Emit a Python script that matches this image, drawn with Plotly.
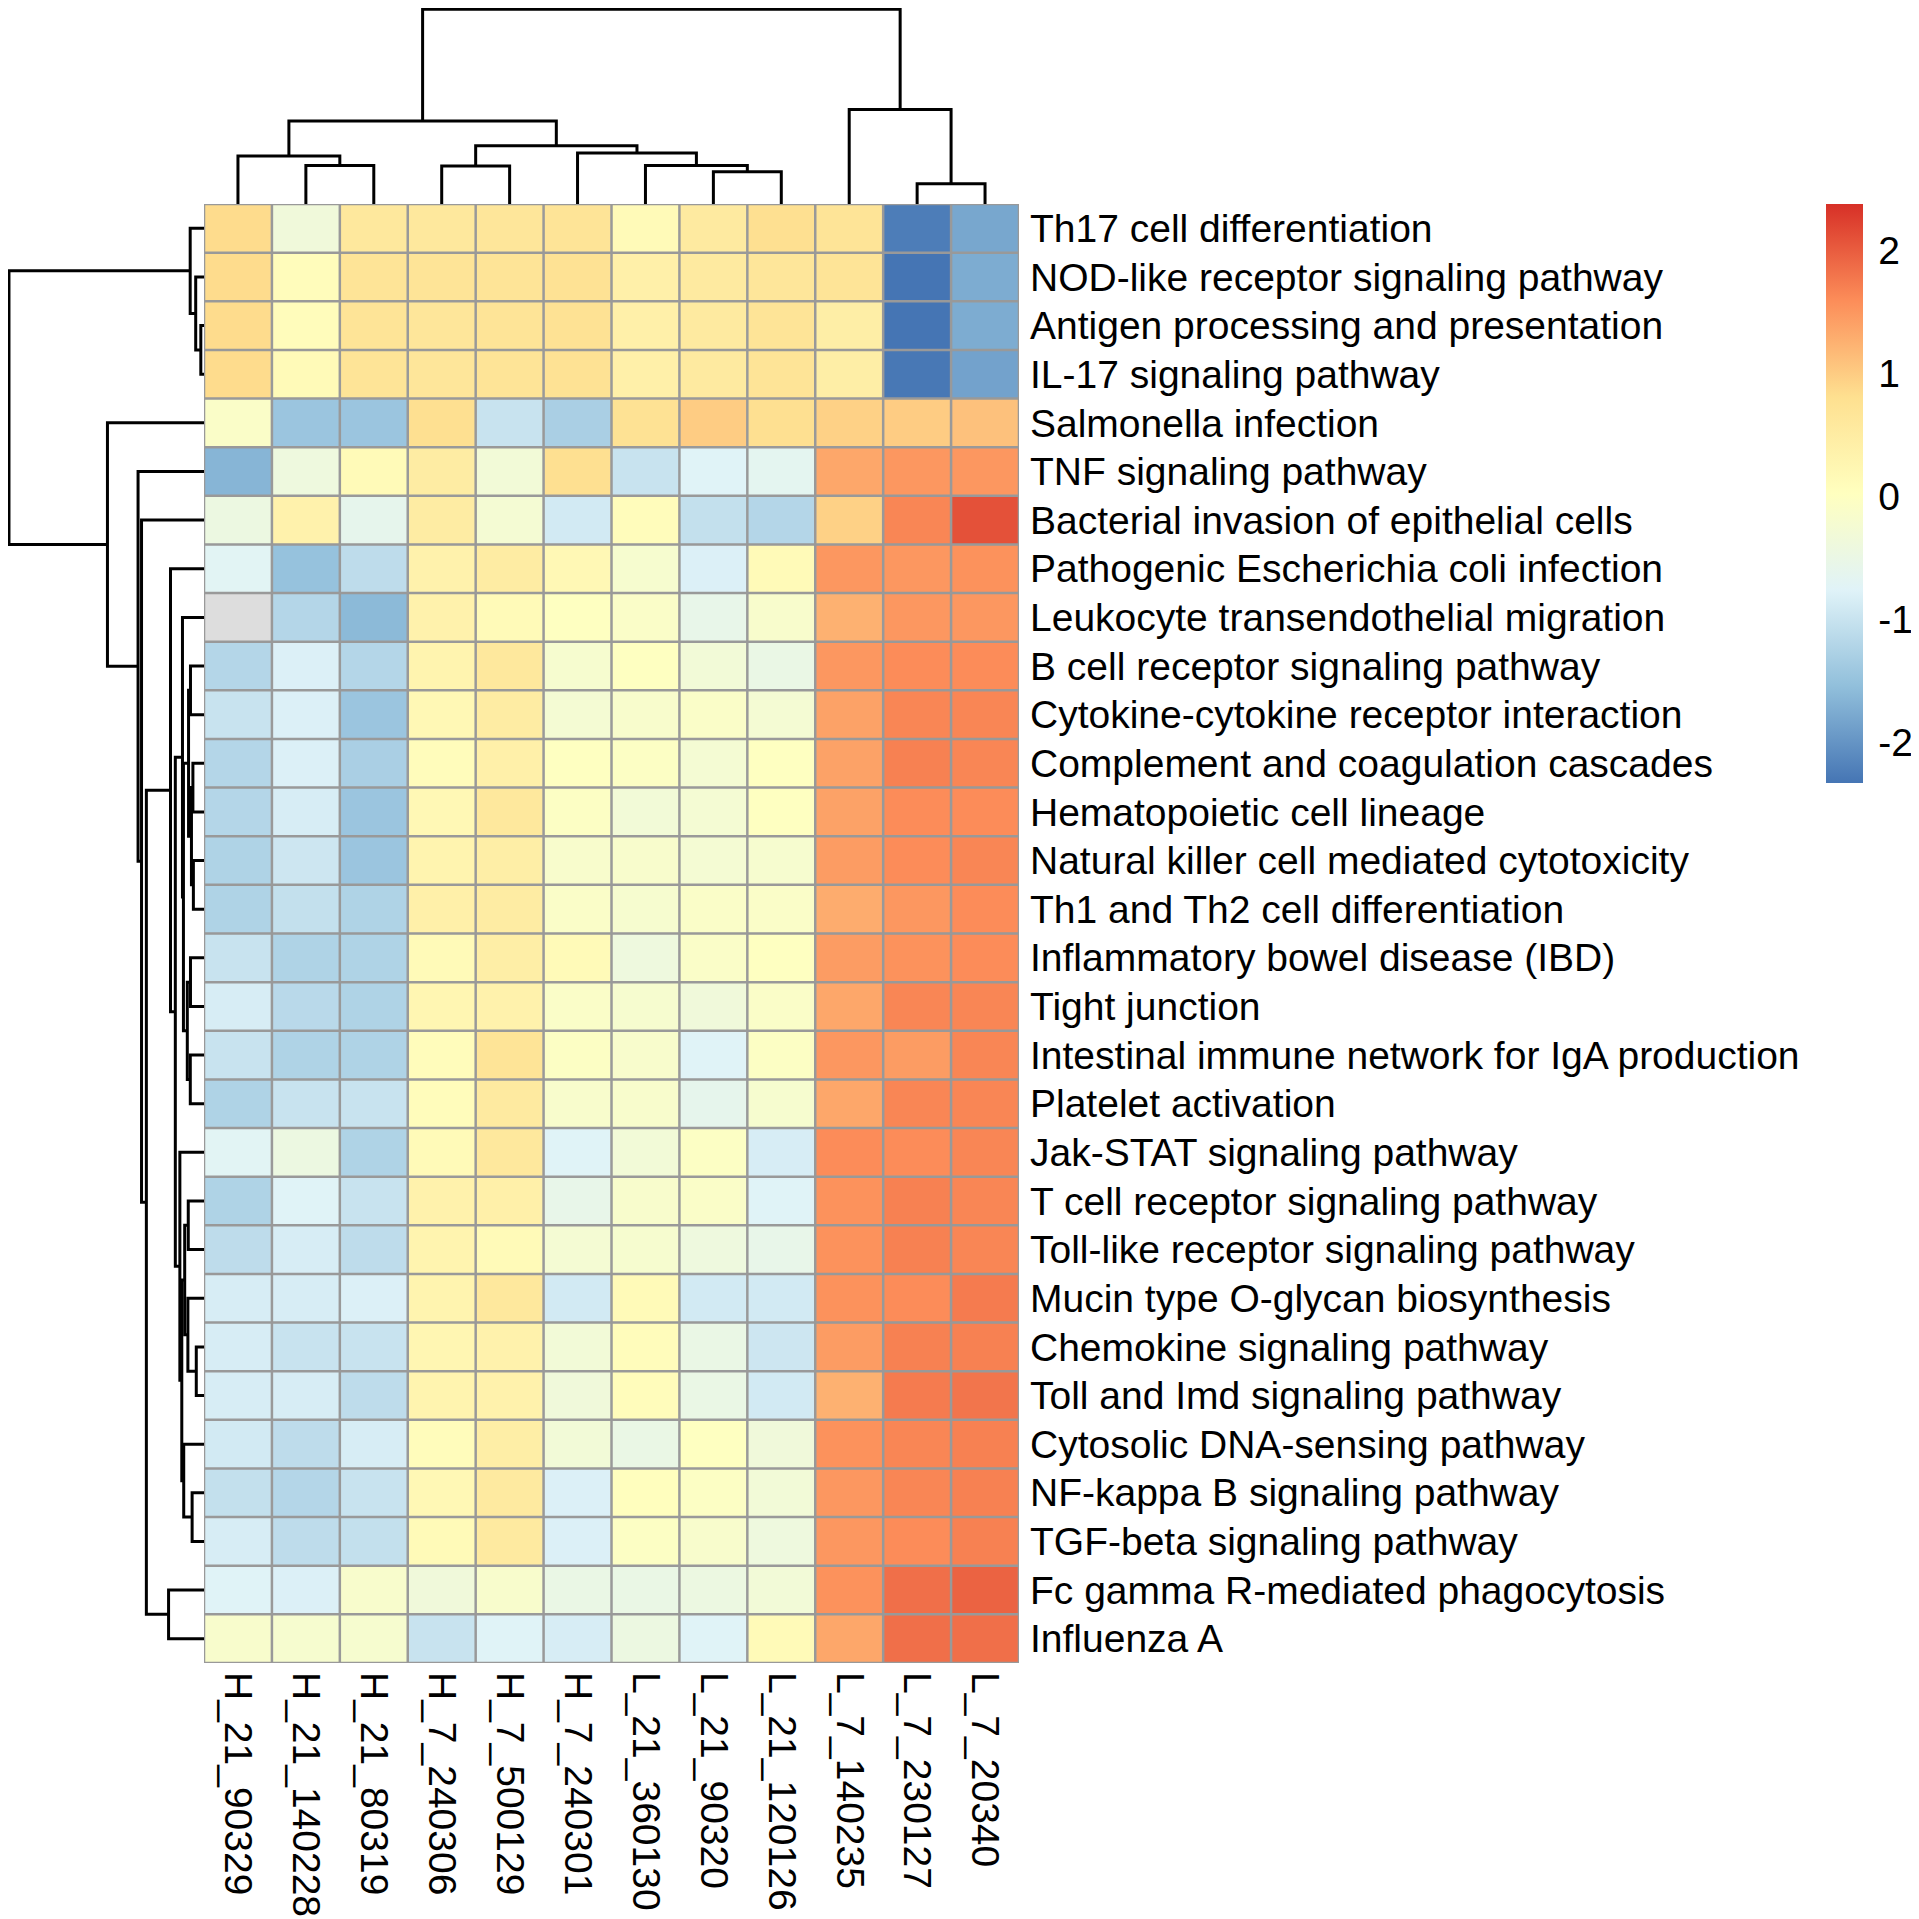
import numpy as np
import plotly.graph_objects as go

# ---------------- data ----------------
row_names = [
    "Th17 cell differentiation",
    "NOD-like receptor signaling pathway",
    "Antigen processing and presentation",
    "IL-17 signaling pathway",
    "Salmonella infection",
    "TNF signaling pathway",
    "Bacterial invasion of epithelial cells",
    "Pathogenic Escherichia coli infection",
    "Leukocyte transendothelial migration",
    "B cell receptor signaling pathway",
    "Cytokine-cytokine receptor interaction",
    "Complement and coagulation cascades",
    "Hematopoietic cell lineage",
    "Natural killer cell mediated cytotoxicity",
    "Th1 and Th2 cell differentiation",
    "Inflammatory bowel disease (IBD)",
    "Tight junction",
    "Intestinal immune network for IgA production",
    "Platelet activation",
    "Jak-STAT signaling pathway",
    "T cell receptor signaling pathway",
    "Toll-like receptor signaling pathway",
    "Mucin type O-glycan biosynthesis",
    "Chemokine signaling pathway",
    "Toll and Imd signaling pathway",
    "Cytosolic DNA-sensing pathway",
    "NF-kappa B signaling pathway",
    "TGF-beta signaling pathway",
    "Fc gamma R-mediated phagocytosis",
    "Influenza A",
]

col_names = [
    "H_21_90329", "H_21_140228", "H_21_80319", "H_7_240306", "H_7_500129",
    "H_7_240301", "L_21_360130", "L_21_90320", "L_21_120126", "L_7_140235",
    "L_7_230127", "L_7_20340",
]

values = [
    [0.85, -0.35, 0.60, 0.60, 0.65, 0.70, 0.15, 0.55, 0.80, 0.70, -2.25, -1.80],
    [0.85, 0.10, 0.70, 0.70, 0.70, 0.75, 0.40, 0.55, 0.65, 0.70, -2.33, -1.75],
    [0.85, 0.10, 0.70, 0.65, 0.70, 0.75, 0.40, 0.55, 0.70, 0.45, -2.33, -1.75],
    [0.85, 0.15, 0.70, 0.65, 0.70, 0.75, 0.40, 0.55, 0.70, 0.45, -2.30, -1.85],
    [-0.10, -1.45, -1.45, 0.80, -1.00, -1.30, 0.75, 1.00, 0.80, 0.95, 1.00, 1.10],
    [-1.65, -0.40, 0.15, 0.50, -0.30, 0.80, -1.00, -0.75, -0.65, 1.35, 1.50, 1.50],
    [-0.45, 0.35, -0.60, 0.50, -0.25, -0.90, 0.10, -1.05, -1.20, 0.95, 1.65, 2.10],
    [-0.70, -1.50, -1.10, 0.35, 0.50, 0.20, -0.20, -0.80, 0.15, 1.50, 1.50, 1.55],
    [None, -1.20, -1.60, 0.35, 0.15, 0.00, -0.10, -0.55, -0.15, 1.25, 1.50, 1.50],
    [-1.20, -0.80, -1.20, 0.30, 0.60, -0.20, 0.00, -0.30, -0.50, 1.50, 1.60, 1.60],
    [-1.00, -0.80, -1.45, 0.20, 0.50, -0.25, -0.15, -0.10, -0.25, 1.40, 1.65, 1.65],
    [-1.20, -0.80, -1.30, 0.10, 0.40, 0.00, -0.05, -0.25, 0.00, 1.40, 1.70, 1.65],
    [-1.20, -0.85, -1.45, 0.20, 0.60, -0.05, -0.30, -0.25, 0.00, 1.40, 1.60, 1.60],
    [-1.25, -0.95, -1.45, 0.30, 0.45, -0.15, -0.15, -0.25, -0.20, 1.45, 1.60, 1.65],
    [-1.25, -1.05, -1.25, 0.40, 0.50, -0.10, -0.20, -0.10, -0.10, 1.30, 1.50, 1.60],
    [-1.00, -1.25, -1.25, 0.15, 0.45, 0.15, -0.40, -0.10, 0.00, 1.45, 1.55, 1.60],
    [-0.85, -1.15, -1.25, 0.25, 0.35, -0.10, -0.20, -0.35, -0.10, 1.35, 1.65, 1.65],
    [-1.00, -1.25, -1.25, 0.10, 0.70, -0.05, -0.15, -0.75, -0.05, 1.50, 1.45, 1.65],
    [-1.25, -1.00, -1.00, 0.10, 0.55, -0.15, -0.15, -0.60, -0.20, 1.35, 1.65, 1.65],
    [-0.70, -0.45, -1.25, 0.15, 0.60, -0.75, -0.30, -0.05, -0.85, 1.60, 1.60, 1.65],
    [-1.25, -0.75, -1.00, 0.35, 0.40, -0.55, -0.15, -0.10, -0.75, 1.55, 1.70, 1.65],
    [-1.10, -0.85, -1.10, 0.30, 0.15, -0.25, -0.20, -0.40, -0.55, 1.55, 1.70, 1.65],
    [-0.85, -0.85, -0.80, 0.30, 0.60, -0.90, 0.15, -0.90, -0.90, 1.55, 1.60, 1.75],
    [-0.85, -1.00, -1.00, 0.25, 0.35, -0.30, 0.10, -0.50, -0.95, 1.45, 1.70, 1.70],
    [-0.85, -0.85, -1.10, 0.30, 0.35, -0.35, 0.10, -0.50, -0.90, 1.25, 1.75, 1.80],
    [-0.90, -1.10, -0.85, 0.10, 0.45, -0.30, -0.50, 0.00, -0.35, 1.55, 1.65, 1.70],
    [-1.05, -1.20, -1.00, 0.20, 0.55, -0.80, 0.05, -0.05, -0.30, 1.50, 1.65, 1.70],
    [-0.85, -1.10, -1.05, 0.15, 0.55, -0.80, -0.05, -0.15, -0.40, 1.50, 1.60, 1.70],
    [-0.75, -0.80, -0.15, -0.35, -0.15, -0.50, -0.50, -0.45, -0.30, 1.55, 1.85, 1.95],
    [-0.15, -0.20, -0.20, -1.00, -0.75, -0.85, -0.45, -0.75, 0.15, 1.35, 1.85, 1.85],
]

# hclust-style merges (negative = leaf, 1-based; positive = earlier merge step)
row_merge = [
    (-3, -4), (-2, 1), (-1, 2), (-24, -25), (-14, -15), (-12, -13), (-27, -28),
    (6, 5), (-10, -11), (-16, -17), (-18, -19), (9, 8), (-21, -22), (-23, 4),
    (10, 11), (13, 14), (-26, 7), (12, 15), (-9, 18), (16, 17), (-20, 20),
    (19, 21), (-8, 22), (-29, -30), (23, 24), (-7, 25), (-6, 26), (-5, 27), (3, 28),
]
row_height = [
    3.3, 8.6, 14.3, 8.0, 11.0, 11.5, 12.3, 13.0, 14.0, 14.0, 14.2, 16.0, 16.3, 16.7,
    17.3, 20.0, 21.0, 21.3, 22.3, 23.0, 25.0, 29.7, 34.7, 36.7, 59.7, 64.7, 68.3,
    100.0, 202.0,
]

col_merge = [
    (-11, -12), (-8, -9), (-4, -5), (-2, -3), (-7, 2), (-1, 4), (-6, 5), (3, 7),
    (6, 8), (-10, 1), (9, 10),
]
col_height = [21.0, 33.3, 39.3, 40.0, 40.0, 49.7, 52.7, 60.3, 86.0, 98.0, 201.7]

palette = ["#4575B4", "#91BFDB", "#E0F3F8", "#FFFFBF", "#FEE090", "#FC8D59", "#D73027"]
zmin, zmax = -2.33, 2.38
cbar_ticks = [-2, -1, 0, 1, 2]

# ---------------- layout geometry (page pixels) ----------------
PAGE = 1919
OFF = 8                      # default body margin of the html page
FIGW = FIGH = PAGE - OFF
hm_left, hm_right, hm_top, hm_bottom = 204, 1019, 204, 1663
FONT = "Liberation Sans, Arial, sans-serif"
FS = 39


def px_x(p):
    return (p - OFF) / FIGW


def px_y(p):
    return 1 - (p - OFF) / FIGH


def dendro(merge, heights):
    nodes = []
    pos_l, h_l = [], []

    def get(c):
        if c < 0:
            return (-c - 1, 0.0)
        return nodes[c - 1]

    for (a, b), h in zip(merge, heights):
        pa, ha = get(a)
        pb, hb = get(b)
        pos_l += [pa, pa, pb, pb, None]
        h_l += [ha, h, h, hb, None]
        nodes.append(((pa + pb) / 2, h))
    return pos_l, h_l


z = np.array([[np.nan if v is None else v for v in r] for r in values], dtype=float)
na_mask = np.where(np.isnan(z), 1.0, np.nan)
nrow, ncol = z.shape

colorscale = [[i / (len(palette) - 1), c] for i, c in enumerate(palette)]

fig = go.Figure()

fig.add_trace(go.Heatmap(
    z=na_mask, x=list(range(ncol)), y=list(range(nrow)),
    colorscale=[[0, "#DDDDDD"], [1, "#DDDDDD"]], showscale=False,
    hoverinfo="skip", xaxis="x", yaxis="y",
))

fig.add_trace(go.Heatmap(
    z=z, x=list(range(ncol)), y=list(range(nrow)),
    colorscale=colorscale, zmin=zmin, zmax=zmax,
    xaxis="x", yaxis="y",
    colorbar=dict(
        x=px_x(1826), xanchor="left", xpad=0,
        y=px_y(hm_top), yanchor="top", ypad=0,
        lenmode="pixels", len=579, thickness=37,
        outlinewidth=0,
        tickvals=cbar_ticks, ticktext=[str(t) for t in cbar_ticks],
        ticks="outside", ticklen=8, tickcolor="rgba(0,0,0,0)",
        tickfont=dict(family=FONT, size=FS, color="black"),
    ),
))

# column dendrogram
cp, ch = dendro(col_merge, col_height)
fig.add_trace(go.Scatter(
    x=cp, y=ch, mode="lines", line=dict(color="black", width=3),
    xaxis="x", yaxis="y2", hoverinfo="skip", showlegend=False,
))

# row dendrogram
rp, rh = dendro(row_merge, row_height)
fig.add_trace(go.Scatter(
    x=rh, y=rp, mode="lines", line=dict(color="black", width=3),
    xaxis="x3", yaxis="y", hoverinfo="skip", showlegend=False,
))

# cell borders
shapes = []
for k in range(ncol + 1):
    shapes.append(dict(type="line", xref="x", yref="y", x0=k - 0.5, x1=k - 0.5,
                       y0=-0.5, y1=nrow - 0.5, line=dict(color="#999999", width=2.5)))
for k in range(nrow + 1):
    shapes.append(dict(type="line", xref="x", yref="y", y0=k - 0.5, y1=k - 0.5,
                       x0=-0.5, x1=ncol - 0.5, line=dict(color="#999999", width=2.5)))

fig.update_layout(
    width=FIGW, height=FIGH,
    margin=dict(l=0, r=0, t=0, b=0),
    paper_bgcolor="white", plot_bgcolor="white",
    showlegend=False,
    font=dict(family=FONT, size=FS, color="black"),
    shapes=shapes,
    xaxis=dict(
        domain=[px_x(hm_left), px_x(hm_right)], range=[-0.5, ncol - 0.5],
        anchor="y", tickmode="array", tickvals=list(range(ncol)), ticktext=col_names,
        tickangle=90, ticks="", ticklabelstandoff=8,
        showgrid=False, zeroline=False, showline=False,
        tickfont=dict(family=FONT, size=FS, color="black"),
    ),
    yaxis=dict(
        domain=[px_y(hm_bottom), px_y(hm_top)], range=[nrow - 0.5, -0.5],
        anchor="x", side="right", tickmode="array", tickvals=list(range(nrow)),
        ticktext=row_names, ticks="", ticklabelstandoff=10,
        showgrid=False, zeroline=False, showline=False,
        tickfont=dict(family=FONT, size=FS, color="black"),
    ),
    yaxis2=dict(
        domain=[px_y(hm_top), 1], range=[0, 203], anchor="x",
        visible=False, showgrid=False, zeroline=False,
    ),
    xaxis3=dict(
        domain=[0, px_x(hm_left)], range=[203, 0], anchor="y",
        visible=False, showgrid=False, zeroline=False,
    ),
)

fig.write_html("out.html")
